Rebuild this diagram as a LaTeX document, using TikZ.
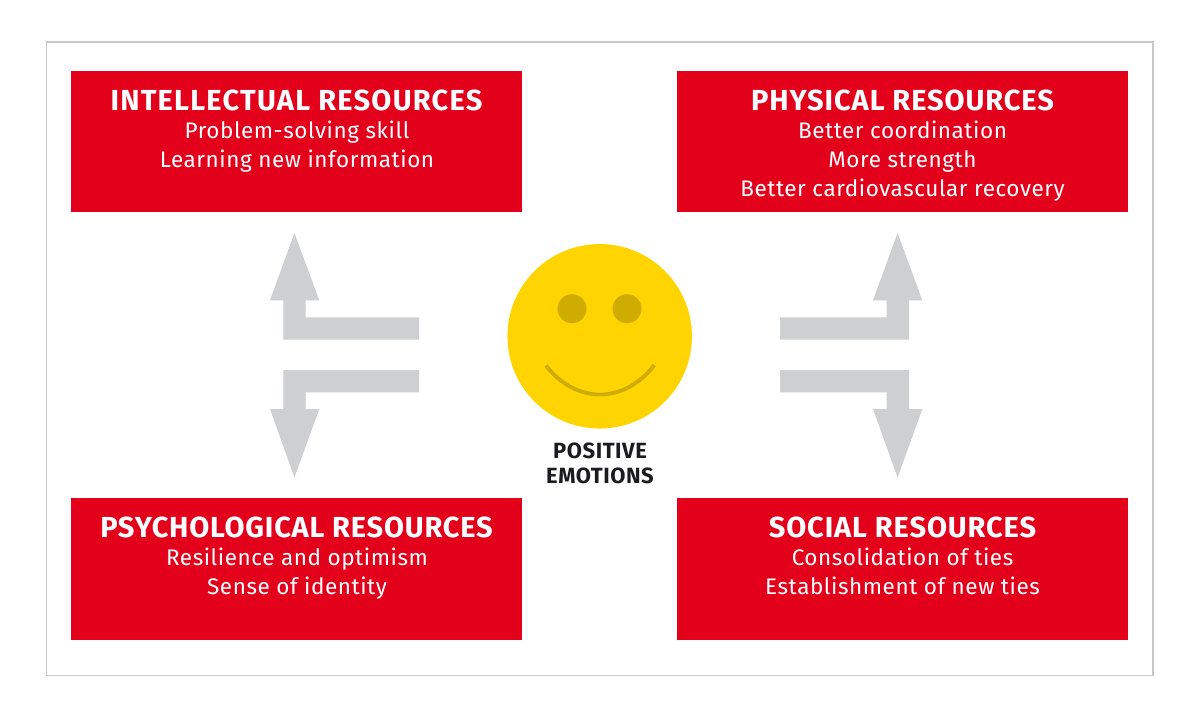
\documentclass[tikz,border=0pt]{standalone}
\usepackage{fontspec}
\setmainfont{Fira Sans}
\definecolor{redbox}{RGB}{226,0,26}
\definecolor{arrowgray}{RGB}{205,207,208}
\definecolor{framegray}{RGB}{200,200,200}
\definecolor{smile}{RGB}{255,212,0}
\definecolor{smiledark}{RGB}{207,172,0}
\definecolor{inkdark}{RGB}{28,28,32}
\newcommand{\titlefont}[1]{\fontsize{29}{29}\selectfont\addfontfeature{LetterSpace=#1}\bfseries}
\tikzset{
  x=1pt,y=-1pt,
  resbox/.style={fill=redbox,draw=none,minimum width=451pt,minimum height=141.5pt,inner sep=0pt,outer sep=0pt},
  restitle/.style={text=white,inner sep=0pt,anchor=base},
  resline/.style={text=white,font=\fontsize{22.5}{22.5}\selectfont\addfontfeature{LetterSpace=2.5}\fontseries{l}\selectfont,inner sep=0pt,anchor=base},
  emotion/.style={text=inkdark,font=\fontsize{22}{22}\selectfont\addfontfeature{LetterSpace=2.5}\bfseries,inner sep=0pt,anchor=base},
  grayarrow/.style={fill=arrowgray,draw=none},
}
\begin{document}
\begin{tikzpicture}
\useasboundingbox (0,0) rectangle (1200,721);
\fill[white] (0,0) rectangle (1200,721);
\draw[framegray,line width=1.3pt] (46.5,42) rectangle (1153,675.5);
% boxes
\node[resbox] (intellectual) at (296.5,141.5) {};
\node[resbox] (physical) at (902.5,141.5) {};
\node[resbox] (psychological) at (296.5,568.8) {};
\node[resbox] (social) at (902.5,568.8) {};
% arrows
\fill[grayarrow] (294.4,233) -- (319.3,300.3) -- (305.7,300.3) -- (305.7,317.3) -- (419,317.3) -- (419,339.7) -- (283.3,339.7) -- (283.3,300.3) -- (270,300.3) -- cycle;
\fill[grayarrow] (294.4,477.5) -- (319.3,409) -- (305.7,409) -- (305.7,392.3) -- (419,392.3) -- (419,370) -- (283.3,370) -- (283.3,409) -- (270,409) -- cycle;
\fill[grayarrow] (897.6,233) -- (873,300.3) -- (886.5,300.3) -- (886.5,317.3) -- (780,317.3) -- (780,339.7) -- (909,339.7) -- (909,300.3) -- (922.3,300.3) -- cycle;
\fill[grayarrow] (897.6,477.5) -- (873,409) -- (886.5,409) -- (886.5,392.3) -- (780,392.3) -- (780,370) -- (909,370) -- (909,409) -- (922.3,409) -- cycle;
% smiley
\node[circle,fill=smile,minimum size=184.5pt,inner sep=0pt] (face) at (599.7,336.3) {};
\node[circle,fill=smiledark,minimum size=29pt,inner sep=0pt] (eyeL) at (572,308.7) {};
\node[circle,fill=smiledark,minimum size=29pt,inner sep=0pt] (eyeR) at (627,308.7) {};
\coordinate (smileL) at (546,365.5);
\coordinate (smileR) at (654.3,365);
\draw[smiledark,line width=3.8pt] (smileL) .. controls (560,384) and (580,394.5) .. (600,394.5) .. controls (620,394.5) and (640,384) .. (smileR);
% texts
\node[emotion] (pos) at (600,458) {POSITIVE};
\node[emotion] (emo) at (600,483) {EMOTIONS};
\node[restitle,font=\titlefont{4.3}] (t1) at (296.5,110) {INTELLECTUAL RESOURCES};
\node[resline] (l11) at (297,138.7) {Problem-solving skill};
\node[resline] (l12) at (297,167.5) {Learning new information};
\node[restitle,font=\titlefont{3.2}] (t2) at (902.5,110) {PHYSICAL RESOURCES};
\node[resline] (l21) at (902.5,138.7) {Better coordination};
\node[resline] (l22) at (902.5,167.5) {More strength};
\node[resline] (l23) at (902.5,196) {Better cardiovascular recovery};
\node[restitle,font=\titlefont{2.75}] (t3) at (296.5,537) {PSYCHOLOGICAL RESOURCES};
\node[resline] (l31) at (297,565.7) {Resilience and optimism};
\node[resline] (l32) at (297,594.5) {Sense of identity};
\node[restitle,font=\titlefont{3.1}] (t4) at (902.5,537) {SOCIAL RESOURCES};
\node[resline] (l41) at (902.5,565.7) {Consolidation of ties};
\node[resline] (l42) at (902.5,594.5) {Establishment of new ties};
\end{tikzpicture}
\end{document}
